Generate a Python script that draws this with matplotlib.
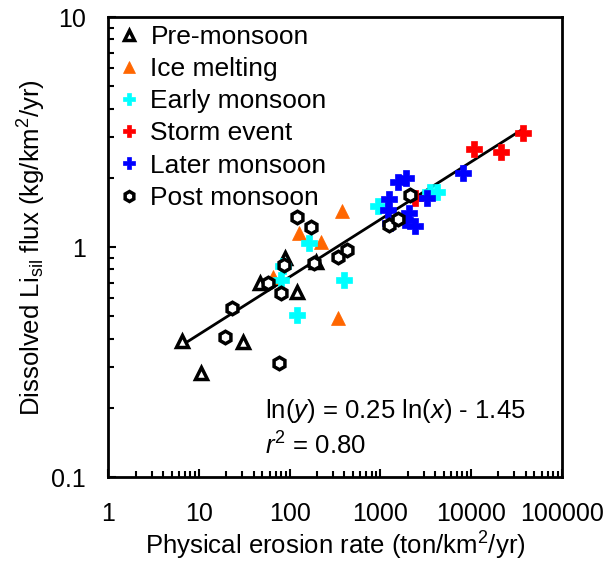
import matplotlib
matplotlib.use("Agg")
import matplotlib.pyplot as plt
import numpy as np

plt.rcParams['font.family'] = ['Liberation Sans', 'DejaVu Sans']
plt.rcParams['mathtext.fontset'] = 'custom'
plt.rcParams['mathtext.rm'] = 'Liberation Sans'
plt.rcParams['mathtext.it'] = 'Liberation Sans:italic'

# Data (physical erosion rate, dissolved Li_sil flux)
pre_x = [6.5, 10.5, 30.5, 47, 119, 88, 193]
pre_y = [0.39, 0.283, 0.386, 0.70, 0.64, 0.90, 0.86]

ice_x = [382, 126, 219, 345, 65]
ice_y = [1.43, 1.15, 1.05, 0.49, 0.74]

early_x = [162, 84, 80, 402, 122, 950, 3540, 4230]
early_y = [1.04, 0.83, 0.72, 0.72, 0.506, 1.51, 1.73, 1.73]

storm_x = [37250, 10790, 21370, 2425]
storm_y = [3.13, 2.67, 2.59, 1.63]

later_x = [1932, 1577, 1256, 1225, 2083, 2425, 1883, 3283, 8170, 1288]
later_y = [2.0, 1.92, 1.62, 1.45, 1.41, 1.23, 1.31, 1.63, 2.10, 1.27]

post_x = [23, 19.3, 76, 57, 80, 86, 119, 170, 184, 337, 434, 2137, 1256, 1577]
post_y = [0.543, 0.406, 0.313, 0.70, 0.63, 0.835, 1.35, 1.22, 0.85, 0.905, 0.97, 1.68, 1.25, 1.32]

fit_slope = 0.25
fit_intercept = -1.45
fit_xrange = [6.4, 37250]

fig = plt.figure(figsize=(6.08, 5.68), dpi=100)
ax = fig.add_axes([0.178, 0.160, 0.746, 0.810])

fx = np.logspace(np.log10(fit_xrange[0]), np.log10(fit_xrange[1]), 50)
fy = np.exp(fit_intercept) * fx ** fit_slope
ax.plot(fx, fy, color='black', lw=2, zorder=2)

ms = 9
ax.plot(pre_x, pre_y, linestyle='none', marker='^', ms=ms, mfc='white', mec='black', mew=2.5, label='Pre-monsoon', zorder=3)
ax.plot(ice_x, ice_y, linestyle='none', marker='^', ms=ms + 1, mfc='#FF6600', mec='#FF6600', mew=0.5, label='Ice melting', zorder=3)
ax.plot(early_x, early_y, linestyle='none', marker='P', ms=ms + 2, mfc='#00FFFF', mec='#00FFFF', mew=0.5, label='Early monsoon', zorder=3)
ax.plot(storm_x, storm_y, linestyle='none', marker='P', ms=ms + 2, mfc='#FF0000', mec='#FF0000', mew=0.5, label='Storm event', zorder=3)
ax.plot(later_x, later_y, linestyle='none', marker='P', ms=ms + 2, mfc='#0000FF', mec='#0000FF', mew=0.5, label='Later monsoon', zorder=3)
ax.plot(post_x, post_y, linestyle='none', marker='h', ms=ms, mfc='white', mec='black', mew=2.5, label='Post monsoon', zorder=4)

ax.set_xscale('log')
ax.set_yscale('log')
ax.set_xlim(1, 100000)
ax.set_ylim(0.1, 10)
ax.set_xticks([1, 10, 100, 1000, 10000, 100000])
ax.set_xticklabels(['1', '10', '100', '1000', '10000', '100000'])
ax.set_yticks([0.1, 1, 10])
ax.set_yticklabels(['0.1', '1', '10'])

for s in ax.spines.values():
    s.set_linewidth(2)
ax.tick_params(which='both', direction='in', top=False, right=False, labelsize=18, width=1.5)
ax.tick_params(which='major', length=6)
ax.tick_params(axis='x', which='major', pad=18)
ax.tick_params(axis='y', which='major', pad=16)
ax.tick_params(which='minor', length=4)

ax.set_xlabel('Physical erosion rate (ton/km$^2$/yr)', fontsize=18.5, labelpad=3)
ax.set_ylabel('Dissolved Li$_{\\mathrm{sil}}$ flux (kg/km$^2$/yr)', fontsize=18.5, labelpad=2)

ax.text(0.345, 0.128, 'ln($\\it{y}$) = 0.25 ln($\\it{x}$) - 1.45', transform=ax.transAxes, fontsize=18.5)
ax.text(0.345, 0.048, '$\\it{r}^{2}$ = 0.80', transform=ax.transAxes, fontsize=18.5)

leg = ax.legend(loc='upper left', frameon=False, fontsize=19, handletextpad=0.3,
                labelspacing=0.31, borderaxespad=0.1, handlelength=1.0, markerscale=0.8,
                borderpad=0.2)

fig.savefig('out.png', dpi=100)
